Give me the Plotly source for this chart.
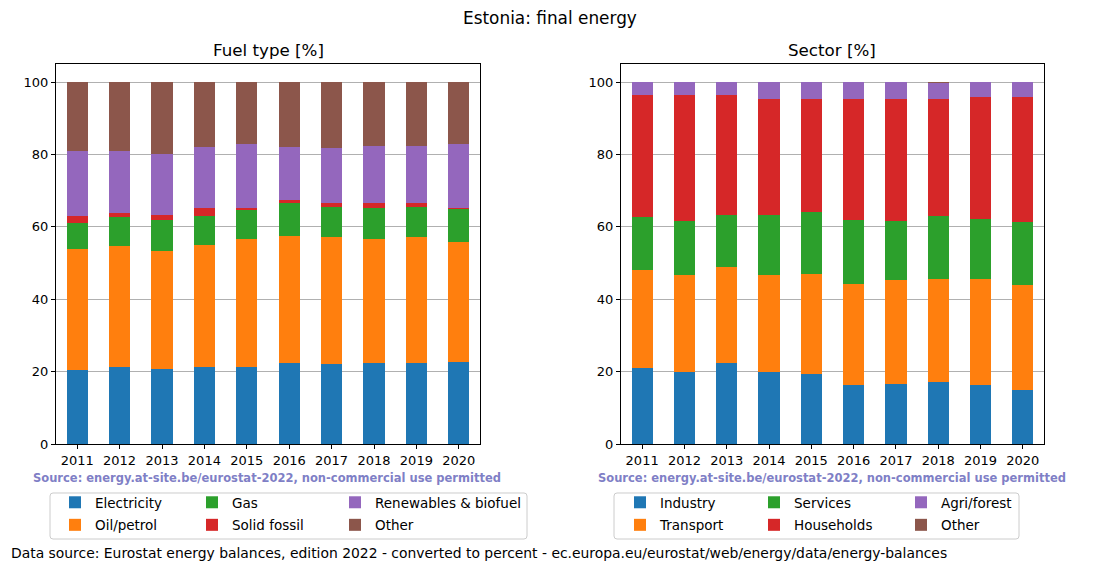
import plotly.graph_objects as go

W, H = 1100, 572

years = ["2011", "2012", "2013", "2014", "2015", "2016", "2017", "2018", "2019", "2020"]

# Fuel type [%]
electricity = [20.5, 21.4, 20.7, 21.4, 21.4, 22.4, 22.1, 22.4, 22.4, 22.7]
oil_petrol = [33.4, 33.4, 32.5, 33.7, 35.3, 35.2, 35.2, 34.3, 34.7, 33.2]
gas = [7.2, 7.8, 8.8, 8.0, 8.1, 9.1, 8.3, 8.6, 8.5, 9.1]
solid_fossil = [1.8, 1.3, 1.3, 2.0, 0.5, 0.6, 0.9, 1.2, 1.1, 0.3]
renewables = [18.2, 17.2, 16.9, 17.0, 17.7, 14.8, 15.3, 15.9, 15.7, 17.7]
fuel_other = [18.9, 18.9, 19.8, 17.9, 17.0, 17.9, 18.2, 17.6, 17.6, 17.0]

# Sector [%]
industry = [21.1, 19.8, 22.4, 19.8, 19.4, 16.4, 16.7, 17.0, 16.4, 15.0]
transport = [27.0, 26.9, 26.4, 26.9, 27.7, 27.9, 28.5, 28.6, 29.2, 29.0]
services = [14.5, 15.0, 14.5, 16.6, 17.1, 17.7, 16.5, 17.3, 16.6, 17.4]
households = [33.7, 34.6, 33.0, 32.1, 31.2, 33.4, 33.7, 32.5, 33.8, 34.6]
agri_forest = [3.7, 3.7, 3.7, 4.6, 4.6, 4.6, 4.6, 4.4, 4.0, 4.0]
sector_other = [0.0, 0.0, 0.0, 0.0, 0.0, 0.0, 0.0, 0.2, 0.0, 0.0]

y_ticks = [0, 20, 40, 60, 80, 100]

colors = ["#1f77b4", "#ff7f0e", "#2ca02c", "#d62728", "#9467bd", "#8c564b"]

fuel_series = [("Electricity", electricity), ("Oil/petrol", oil_petrol), ("Gas", gas),
               ("Solid fossil", solid_fossil), ("Renewables & biofuel", renewables),
               ("Other", fuel_other)]
sector_series = [("Industry", industry), ("Transport", transport), ("Services", services),
                 ("Households", households), ("Agri/forest", agri_forest),
                 ("Other", sector_other)]


def px(x):
    return x / W


def py(y):
    return 1 - y / H


FONT = "DejaVu Sans"
fig = go.Figure()

# legend names: column-major, 2 rows x 3 columns
left_legends = ["legend", "legend", "legend2", "legend2", "legend3", "legend3"]
right_legends = ["legend4", "legend4", "legend5", "legend5", "legend6", "legend6"]

for i, (name, vals) in enumerate(fuel_series):
    fig.add_trace(go.Bar(x=years, y=vals, name=name, marker_color=colors[i],
                         marker_line_width=0, width=0.5, xaxis="x", yaxis="y",
                         legend=left_legends[i], legendgroup="f%d" % i))
for i, (name, vals) in enumerate(sector_series):
    fig.add_trace(go.Bar(x=years, y=vals, name=name, marker_color=colors[i],
                         marker_line_width=0, width=0.5, xaxis="x2", yaxis="y2",
                         legend=right_legends[i], legendgroup="s%d" % i))

axis_common = dict(showline=True, linecolor="black", linewidth=1, mirror=True,
                   ticks="outside", ticklen=4, tickcolor="black",
                   tickfont=dict(family=FONT, size=13, color="black"))

xa = dict(type="category", range=[-0.5, 9.5], showgrid=False, **axis_common)
ya = dict(range=[0, 105], tickvals=y_ticks, showgrid=True, gridcolor="#b0b0b0",
          gridwidth=0.8, zeroline=False, **axis_common)

leg_common = dict(orientation="v", xanchor="left", yanchor="top", bgcolor="rgba(0,0,0,0)",
                  borderwidth=0, font=dict(family=FONT, size=13.5, color="black"),
                  tracegroupgap=2, itemclick=False, itemdoubleclick=False)

legend_y = py(487)
fig.update_layout(
    width=W, height=H,
    margin=dict(l=0, r=0, t=0, b=0, autoexpand=False),
    paper_bgcolor="white", plot_bgcolor="white",
    barmode="stack",
    xaxis=dict(domain=[px(56), px(480)], anchor="y", **xa),
    yaxis=dict(domain=[py(444), py(64)], anchor="x", **ya),
    xaxis2=dict(domain=[px(621), px(1044)], anchor="y2", **xa),
    yaxis2=dict(domain=[py(444), py(64)], anchor="x2", **ya),
    legend=dict(x=px(55), y=legend_y, **leg_common),
    legend2=dict(x=px(192), y=legend_y, **leg_common),
    legend3=dict(x=px(335), y=legend_y, **leg_common),
    legend4=dict(x=px(620), y=legend_y, **leg_common),
    legend5=dict(x=px(754), y=legend_y, **leg_common),
    legend6=dict(x=px(901), y=legend_y, **leg_common),
    showlegend=True,
)


def rounded_rect(x0, y0, x1, y1, r):
    X = lambda v: px(v)
    Y = lambda v: py(v)
    return ("M %f,%f L %f,%f Q %f,%f %f,%f L %f,%f Q %f,%f %f,%f L %f,%f Q %f,%f %f,%f "
            "L %f,%f Q %f,%f %f,%f Z") % (
        X(x0 + r), Y(y0), X(x1 - r), Y(y0), X(x1), Y(y0), X(x1), Y(y0 + r),
        X(x1), Y(y1 - r), X(x1), Y(y1), X(x1 - r), Y(y1),
        X(x0 + r), Y(y1), X(x0), Y(y1), X(x0), Y(y1 - r),
        X(x0), Y(y0 + r), X(x0), Y(y0), X(x0 + r), Y(y0))


# legend frames
for x0, x1 in [(50, 527), (614, 1019)]:
    fig.add_shape(type="path", xref="paper", yref="paper",
                  path=rounded_rect(x0, 493, x1, 539, 3),
                  line=dict(color="#cccccc", width=1), fillcolor="rgba(255,255,255,0)",
                  layer="below")


def text(x, y, s, size, color="black", bold=False, xanchor="center"):
    fig.add_annotation(x=px(x), y=py(y), xref="paper", yref="paper",
                       text=("<b>%s</b>" % s) if bold else s,
                       showarrow=False, xanchor=xanchor, yanchor="middle",
                       font=dict(family=FONT, size=size, color=color))


text(550, 18, "Estonia: final energy", 16.9)
text(268, 50, "Fuel type [%]", 16.7)
text(832, 50, "Sector [%]", 16.7)
src = "Source: energy.at-site.be/eurostat-2022, non-commercial use permitted"
text(267, 478, src, 11.5, color="#7f7fc6", bold=True)
text(832, 478, src, 11.5, color="#7f7fc6", bold=True)
text(9, 553, "Data source: Eurostat energy balances, edition 2022 - converted to percent - "
     "ec.europa.eu/eurostat/web/energy/data/energy-balances", 13.9, xanchor="left")

fig.write_html("out.html")
